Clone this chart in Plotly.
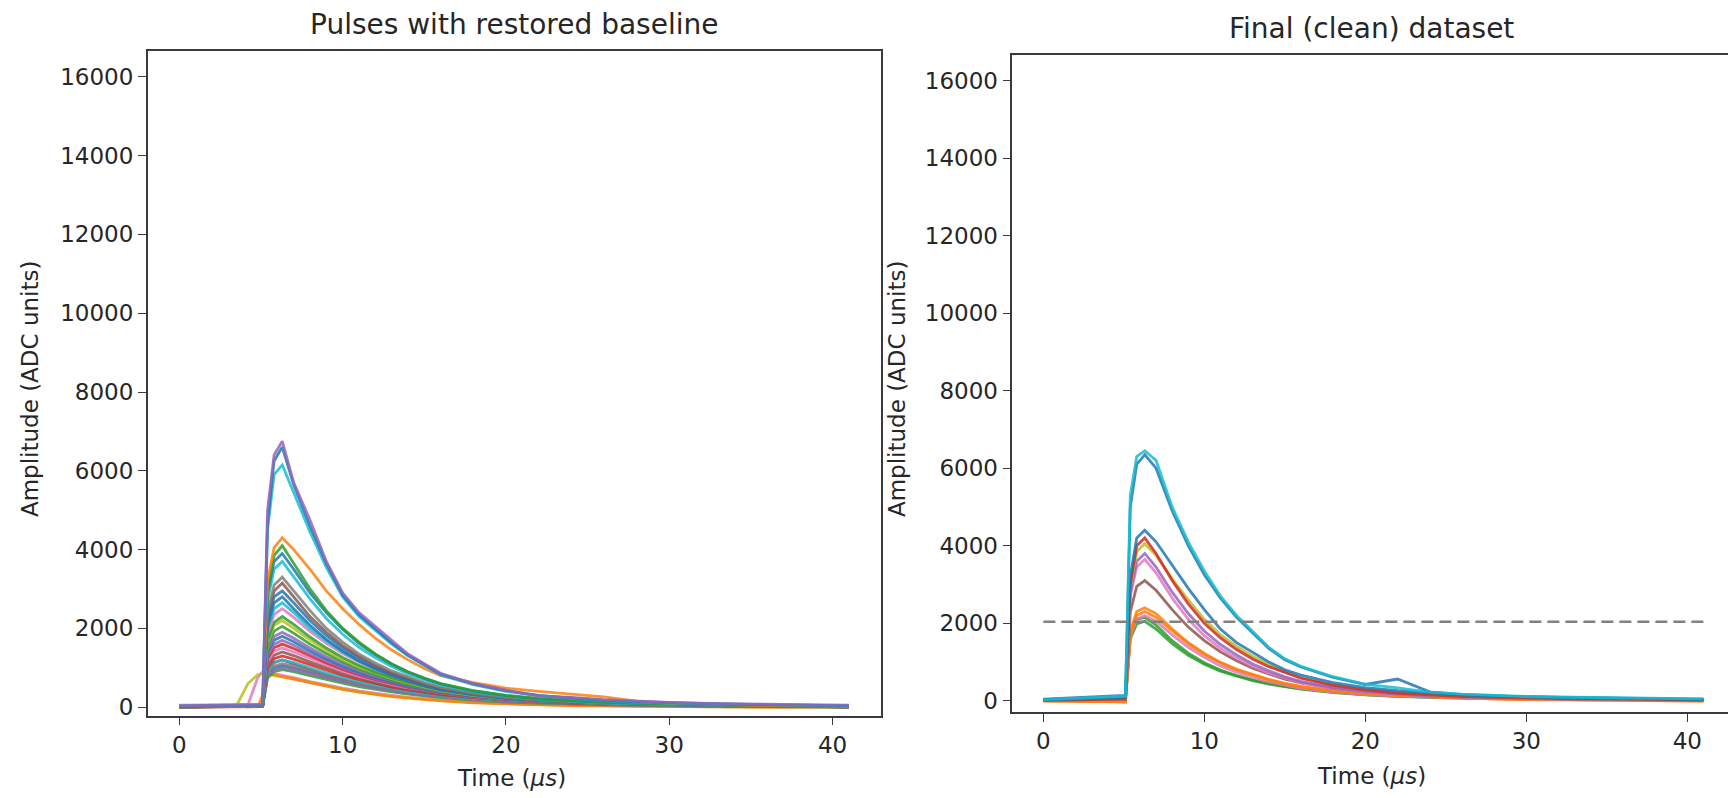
import plotly.graph_objects as go

# ---------------- data ----------------
TIME = [0, 3.5, 4.2, 4.8, 5.1, 5.4, 5.8, 6.3, 7, 8, 9, 10, 11, 12, 13, 14, 15, 16,
        18, 20, 22, 24, 26, 28, 30, 33, 36, 39, 41]

# left panel: pulses with restored baseline
L01 = [30, 50, 40, 60, 80, 5000, 6400, 6750, 5700, 4750, 3700, 2900, 2400, 2050, 1680, 1350, 1100, 860, 600, 430, 280, 250, 190, 150, 120, 90, 70, 60, 50]
L02 = [10, 30, 20, 40, 50, 4700, 6250, 6600, 5650, 4600, 3650, 2850, 2350, 2000, 1640, 1320, 1080, 840, 590, 420, 300, 240, 170, 140, 110, 80, 60, 50, 40]
L03 = [20, 40, 30, 30, 60, 4500, 5900, 6150, 5450, 4450, 3550, 2800, 2300, 1950, 1600, 1300, 1050, 820, 570, 400, 290, 220, 160, 130, 100, 80, 60, 50, 30]
L04 = [0, 20, 10, 30, 40, 3200, 4050, 4300, 4000, 3500, 2950, 2500, 2100, 1750, 1450, 1200, 980, 800, 620, 480, 400, 330, 260, 150, 100, 70, 40, 30, 20]
L05 = [10, 30, 20, 40, 50, 3000, 3850, 4100, 3650, 3000, 2450, 2000, 1650, 1350, 1100, 900, 740, 600, 420, 300, 220, 170, 130, 100, 80, 60, 40, 30, 20]
L06 = [20, 30, 20, 30, 60, 2900, 3700, 3900, 3500, 2900, 2400, 1980, 1620, 1330, 1090, 890, 730, 590, 410, 290, 210, 160, 120, 100, 80, 60, 40, 30, 20]
L07 = [30, 40, 30, 20, 50, 2700, 3500, 3700, 3300, 2750, 2250, 1850, 1520, 1250, 1030, 840, 690, 560, 390, 280, 200, 150, 110, 90, 70, 50, 40, 30, 20]
L08 = [10, 20, 20, 40, 40, 2400, 3100, 3300, 2950, 2450, 2000, 1650, 1350, 1120, 920, 760, 620, 500, 350, 250, 180, 140, 100, 80, 60, 50, 30, 30, 20]
L09 = [20, 30, 10, 30, 50, 2300, 2950, 3150, 2800, 2300, 1900, 1560, 1290, 1060, 870, 720, 590, 480, 340, 240, 170, 130, 100, 80, 60, 40, 30, 20, 10]
L10 = [0, 20, 10, 20, 40, 2150, 2800, 2950, 2650, 2200, 1820, 1500, 1240, 1020, 840, 690, 570, 460, 330, 240, 170, 130, 100, 80, 60, 40, 30, 20, 10]
L11 = [20, 40, 30, 40, 60, 2050, 2650, 2800, 2500, 2080, 1720, 1420, 1170, 970, 800, 660, 540, 440, 310, 220, 160, 120, 90, 70, 60, 40, 30, 20, 20]
L12 = [10, 30, 20, 30, 50, 1950, 2500, 2650, 2400, 2000, 1680, 1400, 1170, 980, 820, 680, 560, 460, 330, 240, 170, 130, 100, 80, 60, 40, 30, 20, 10]
L13 = [40, 50, 40, 60, 70, 1850, 2350, 2500, 2280, 1920, 1620, 1360, 1140, 960, 800, 670, 560, 460, 330, 240, 180, 140, 100, 80, 60, 50, 40, 30, 30]
L14 = [10, 20, 20, 30, 40, 1700, 2150, 2300, 2100, 1780, 1500, 1260, 1060, 890, 750, 630, 530, 440, 320, 230, 170, 130, 100, 80, 60, 40, 30, 20, 20]
L15 = [20, 30, 20, 30, 50, 1650, 2080, 2200, 2000, 1700, 1440, 1210, 1020, 860, 720, 610, 510, 420, 300, 220, 160, 120, 90, 70, 50, 40, 30, 20, 10]
L16 = [0, 20, 10, 30, 40, 1550, 1930, 2050, 1880, 1600, 1360, 1150, 970, 820, 690, 580, 490, 410, 300, 220, 160, 120, 90, 70, 50, 40, 30, 20, 10]
L17 = [30, 40, 30, 50, 60, 1450, 1790, 1900, 1750, 1500, 1280, 1090, 920, 780, 660, 560, 470, 400, 290, 210, 160, 120, 90, 70, 60, 40, 30, 30, 20]
L18 = [10, 20, 20, 30, 40, 1380, 1700, 1800, 1660, 1430, 1220, 1040, 880, 750, 640, 540, 460, 390, 280, 210, 160, 120, 90, 70, 50, 40, 30, 20, 20]
L19 = [20, 40, 30, 40, 50, 1300, 1600, 1700, 1570, 1360, 1170, 1000, 850, 720, 620, 520, 440, 380, 280, 200, 150, 120, 90, 70, 50, 40, 30, 20, 20]
L20 = [10, 20, 10, 20, 40, 1230, 1510, 1600, 1490, 1300, 1120, 960, 820, 700, 600, 510, 430, 370, 270, 200, 150, 110, 90, 70, 50, 40, 30, 20, 10]
L21 = [50, 60, 50, 70, 80, 1160, 1420, 1500, 1400, 1230, 1060, 910, 780, 670, 570, 490, 420, 360, 260, 190, 140, 110, 90, 70, 60, 50, 40, 40, 30]
L22 = [20, 30, 20, 30, 40, 1080, 1320, 1400, 1310, 1150, 1000, 860, 740, 630, 540, 460, 390, 340, 250, 180, 140, 100, 80, 60, 50, 40, 30, 20, 10]
L23 = [10, 20, 10, 20, 30, 1000, 1230, 1300, 1220, 1080, 940, 810, 700, 600, 510, 440, 380, 320, 240, 180, 130, 100, 80, 60, 50, 40, 30, 20, 10]
L24 = [20, 30, 20, 30, 40, 930, 1140, 1200, 1130, 1000, 870, 760, 650, 560, 480, 410, 350, 300, 220, 170, 130, 100, 80, 60, 50, 30, 20, 20, 10]
L25 = [10, 20, 10, 20, 30, 860, 1040, 1100, 1040, 920, 810, 700, 600, 520, 450, 380, 330, 280, 210, 160, 120, 90, 70, 50, 40, 30, 20, 10, 10]
L26 = [30, 40, 30, 40, 50, 780, 950, 1000, 950, 850, 750, 650, 560, 480, 410, 350, 300, 260, 190, 140, 110, 80, 60, 50, 40, 30, 20, 20, 10]
L27 = [10, 20, 10, 20, 30, 740, 900, 950, 900, 800, 700, 610, 520, 450, 390, 330, 280, 240, 180, 130, 100, 80, 60, 40, 30, 20, 20, 10, 10]
L28 = [0, 10, 0, 10, 300, 850, 820, 780, 720, 620, 530, 450, 380, 320, 270, 230, 190, 160, 110, 80, 60, 40, 30, 20, 10, 10, 0, 0, 0]
L29 = [20, 40, 600, 820, 860, 840, 810, 770, 710, 620, 540, 460, 390, 330, 280, 240, 200, 170, 120, 90, 60, 40, 30, 20, 10, 10, 0, 0, 0]
L30 = [40, 50, 60, 750, 900, 880, 850, 810, 750, 650, 560, 480, 410, 350, 300, 250, 210, 180, 130, 90, 70, 50, 40, 30, 20, 20, 10, 10, 10]
L31 = [0, 10, 0, 10, 20, 900, 1130, 1200, 1100, 950, 820, 700, 600, 510, 440, 370, 320, 270, 200, 150, 110, 80, 60, 50, 40, 30, 20, 10, 10]
L32 = [20, 30, 20, 30, 40, 800, 990, 1050, 990, 880, 770, 670, 580, 500, 430, 370, 310, 270, 200, 150, 110, 80, 60, 50, 40, 30, 20, 20, 10]

# right panel: final (clean) dataset
R01 = [30, 80, 90, 110, 120, 5300, 6300, 6450, 6200, 5000, 4100, 3350, 2700, 2200, 1780, 1380, 1080, 890, 620, 420, 330, 220, 170, 140, 110, 90, 70, 60, 50]
R02 = [40, 100, 110, 120, 140, 5000, 6100, 6350, 6000, 4900, 4000, 3250, 2650, 2150, 1740, 1350, 1060, 870, 600, 420, 560, 230, 160, 130, 100, 80, 60, 50, 40]
R03 = [20, 60, 70, 80, 100, 3200, 4200, 4400, 4100, 3500, 2900, 2350, 1850, 1500, 1240, 1000, 800, 660, 470, 340, 260, 200, 150, 120, 100, 80, 60, 40, 30]
R04 = [10, 30, 20, 30, 40, 3000, 4000, 4200, 3800, 3100, 2500, 2000, 1620, 1320, 1080, 880, 720, 580, 400, 280, 200, 150, 110, 90, 70, 50, 40, 30, 20]
R05 = [10, 30, 20, 30, 40, 2900, 3850, 4050, 3750, 3150, 2600, 2100, 1700, 1400, 1150, 930, 750, 600, 410, 290, 210, 150, 110, 90, 70, 50, 40, 30, 20]
R06 = [20, 40, 30, 40, 50, 2800, 3600, 3800, 3450, 2800, 2250, 1800, 1450, 1180, 950, 770, 620, 500, 340, 240, 170, 130, 100, 80, 60, 50, 40, 30, 20]
R07 = [10, 20, 20, 30, 40, 2700, 3450, 3650, 3300, 2650, 2100, 1680, 1350, 1100, 890, 720, 580, 460, 320, 220, 160, 120, 90, 70, 50, 40, 30, 20, 10]
R08 = [10, 20, 20, 30, 40, 2300, 2950, 3100, 2850, 2350, 1900, 1550, 1260, 1030, 840, 690, 560, 460, 320, 230, 170, 120, 90, 70, 60, 40, 30, 20, 10]
R09 = [-10, -20, -30, -40, -30, 1800, 2300, 2400, 2250, 1850, 1500, 1220, 990, 810, 670, 550, 450, 370, 260, 190, 140, 100, 70, 50, 40, 20, 10, 0, -10]
R10 = [0, -10, -20, -30, -40, 1700, 2200, 2300, 2150, 1800, 1470, 1200, 980, 800, 660, 540, 440, 360, 250, 180, 130, 100, 70, 50, 30, 20, 10, 0, -10]
R11 = [20, 30, 20, 30, 40, 1650, 2100, 2200, 2050, 1700, 1380, 1120, 900, 740, 600, 490, 400, 320, 220, 160, 120, 90, 70, 50, 40, 30, 20, 20, 10]
R12 = [20, 40, 30, 50, 60, 1700, 2100, 2150, 1950, 1550, 1230, 980, 790, 650, 540, 450, 370, 310, 220, 160, 120, 90, 70, 60, 50, 40, 40, 30, 30]
R13 = [10, 30, 20, 40, 50, 1600, 1980, 2050, 1850, 1470, 1170, 940, 760, 630, 520, 430, 360, 300, 210, 150, 110, 90, 70, 60, 50, 40, 30, 30, 20]

THRESHOLD = 2040
THRESHOLD_SPAN = [0, 41]

LEFT_PULSES = [L01, L02, L03, L04, L05, L06, L07, L08, L09, L10, L11, L12, L13, L14, L15, L16,
               L17, L18, L19, L20, L21, L22, L23, L24, L25, L26, L27, L28, L29, L30, L31, L32]
RIGHT_PULSES = [R01, R02, R03, R04, R05, R06, R07, R08, R09, R10, R11, R12, R13]

X_TICKS = [0, 10, 20, 30, 40]
Y_TICKS = [0, 2000, 4000, 6000, 8000, 10000, 12000, 14000, 16000]
Y_TICK_LABELS = ["0", "2000", "4000", "6000", "8000", "10000", "12000", "14000", "16000"]
X_TICK_LABELS = ["0", "10", "20", "30", "40"]

# ---------------- styles ----------------
BLUE, ORANGE, GREEN, RED, PURPLE = "#1f77b4", "#ff7f0e", "#2ca02c", "#d62728", "#9467bd"
BROWN, PINK, GRAY, OLIVE, CYAN = "#8c564b", "#e377c2", "#7f7f7f", "#bcbd22", "#17becf"

LEFT_COLORS = [PURPLE, BLUE, CYAN, ORANGE, GREEN, BLUE, CYAN, GRAY, BROWN, BLUE, BLUE, CYAN,
               PINK, GREEN, OLIVE, GREEN, PURPLE, BLUE, PURPLE, RED, PINK, BROWN, RED, CYAN,
               GRAY, PURPLE, GREEN, ORANGE, OLIVE, PINK, RED, BLUE]
RIGHT_COLORS = [CYAN, BLUE, BLUE, RED, OLIVE, PURPLE, PINK, BROWN, ORANGE, ORANGE, PINK, GREEN, GREEN]

FONT = "DejaVu Sans"
TXT = "#262626"
AX = "#3a3a3a"
W, H = 1728, 798

fig = go.Figure()

for ys, c in reversed(list(zip(LEFT_PULSES, LEFT_COLORS))):
    fig.add_trace(go.Scatter(x=TIME, y=ys, mode="lines", xaxis="x", yaxis="y",
                             line=dict(color=c, width=2.8), opacity=0.85, showlegend=False))

for ys, c in reversed(list(zip(RIGHT_PULSES, RIGHT_COLORS))):
    fig.add_trace(go.Scatter(x=TIME, y=ys, mode="lines", xaxis="x2", yaxis="y2",
                             line=dict(color=c, width=2.8), opacity=0.85, showlegend=False))

fig.add_trace(go.Scatter(x=THRESHOLD_SPAN, y=[THRESHOLD, THRESHOLD], mode="lines",
                         xaxis="x2", yaxis="y2", showlegend=False,
                         line=dict(color="#808080", width=2.5, dash="12px,6px")))

def px_x(v):
    return v / W

def px_y(v):
    return 1 - v / H

axis_common = dict(showgrid=False, zeroline=False, showline=True, linecolor=AX, linewidth=1.5,
                   ticks="outside", ticklen=8, tickwidth=1.3, tickcolor=AX,
                   tickfont=dict(family=FONT, size=23, color=TXT))

fig.update_layout(
    width=W, height=H,
    margin=dict(l=0, r=0, t=0, b=0),
    paper_bgcolor="white", plot_bgcolor="white",
    xaxis=dict(domain=[px_x(147.7), px_x(880.7)], range=[-1.94, 42.95], anchor="y",
               tickvals=X_TICKS, ticktext=X_TICK_LABELS, mirror=True, **axis_common),
    yaxis=dict(domain=[px_y(719.3), px_y(51)], range=[-217, 16663], anchor="x",
               tickvals=Y_TICKS, ticktext=Y_TICK_LABELS, mirror=True, **axis_common),
    xaxis2=dict(domain=[px_x(1012.3), 1.0], range=[-1.93, 42.53], anchor="y2",
                tickvals=X_TICKS, ticktext=X_TICK_LABELS, mirror=True, **axis_common),
    yaxis2=dict(domain=[px_y(715.7), px_y(55)], range=[-293, 16666], anchor="x2",
                tickvals=Y_TICKS, ticktext=Y_TICK_LABELS, mirror=False, **axis_common),
)

def text(s, x, y, size, angle=0):
    fig.add_annotation(text=s, x=px_x(x), y=px_y(y), xref="paper", yref="paper",
                       showarrow=False, textangle=angle, xanchor="center", yanchor="middle",
                       font=dict(family=FONT, size=size, color=TXT))

text("Pulses with restored baseline", 514, 25, 28)
text("Final (clean) dataset", 1371, 29, 28)
text("Time (<i>μs</i>)", 511, 782, 23)
text("Time (<i>μs</i>)", 1371, 780, 23)
text("Amplitude (ADC units)", 30, 391, 23, -90)
text("Amplitude (ADC units)", 897, 391, 23, -90)

fig.write_html("out.html")
